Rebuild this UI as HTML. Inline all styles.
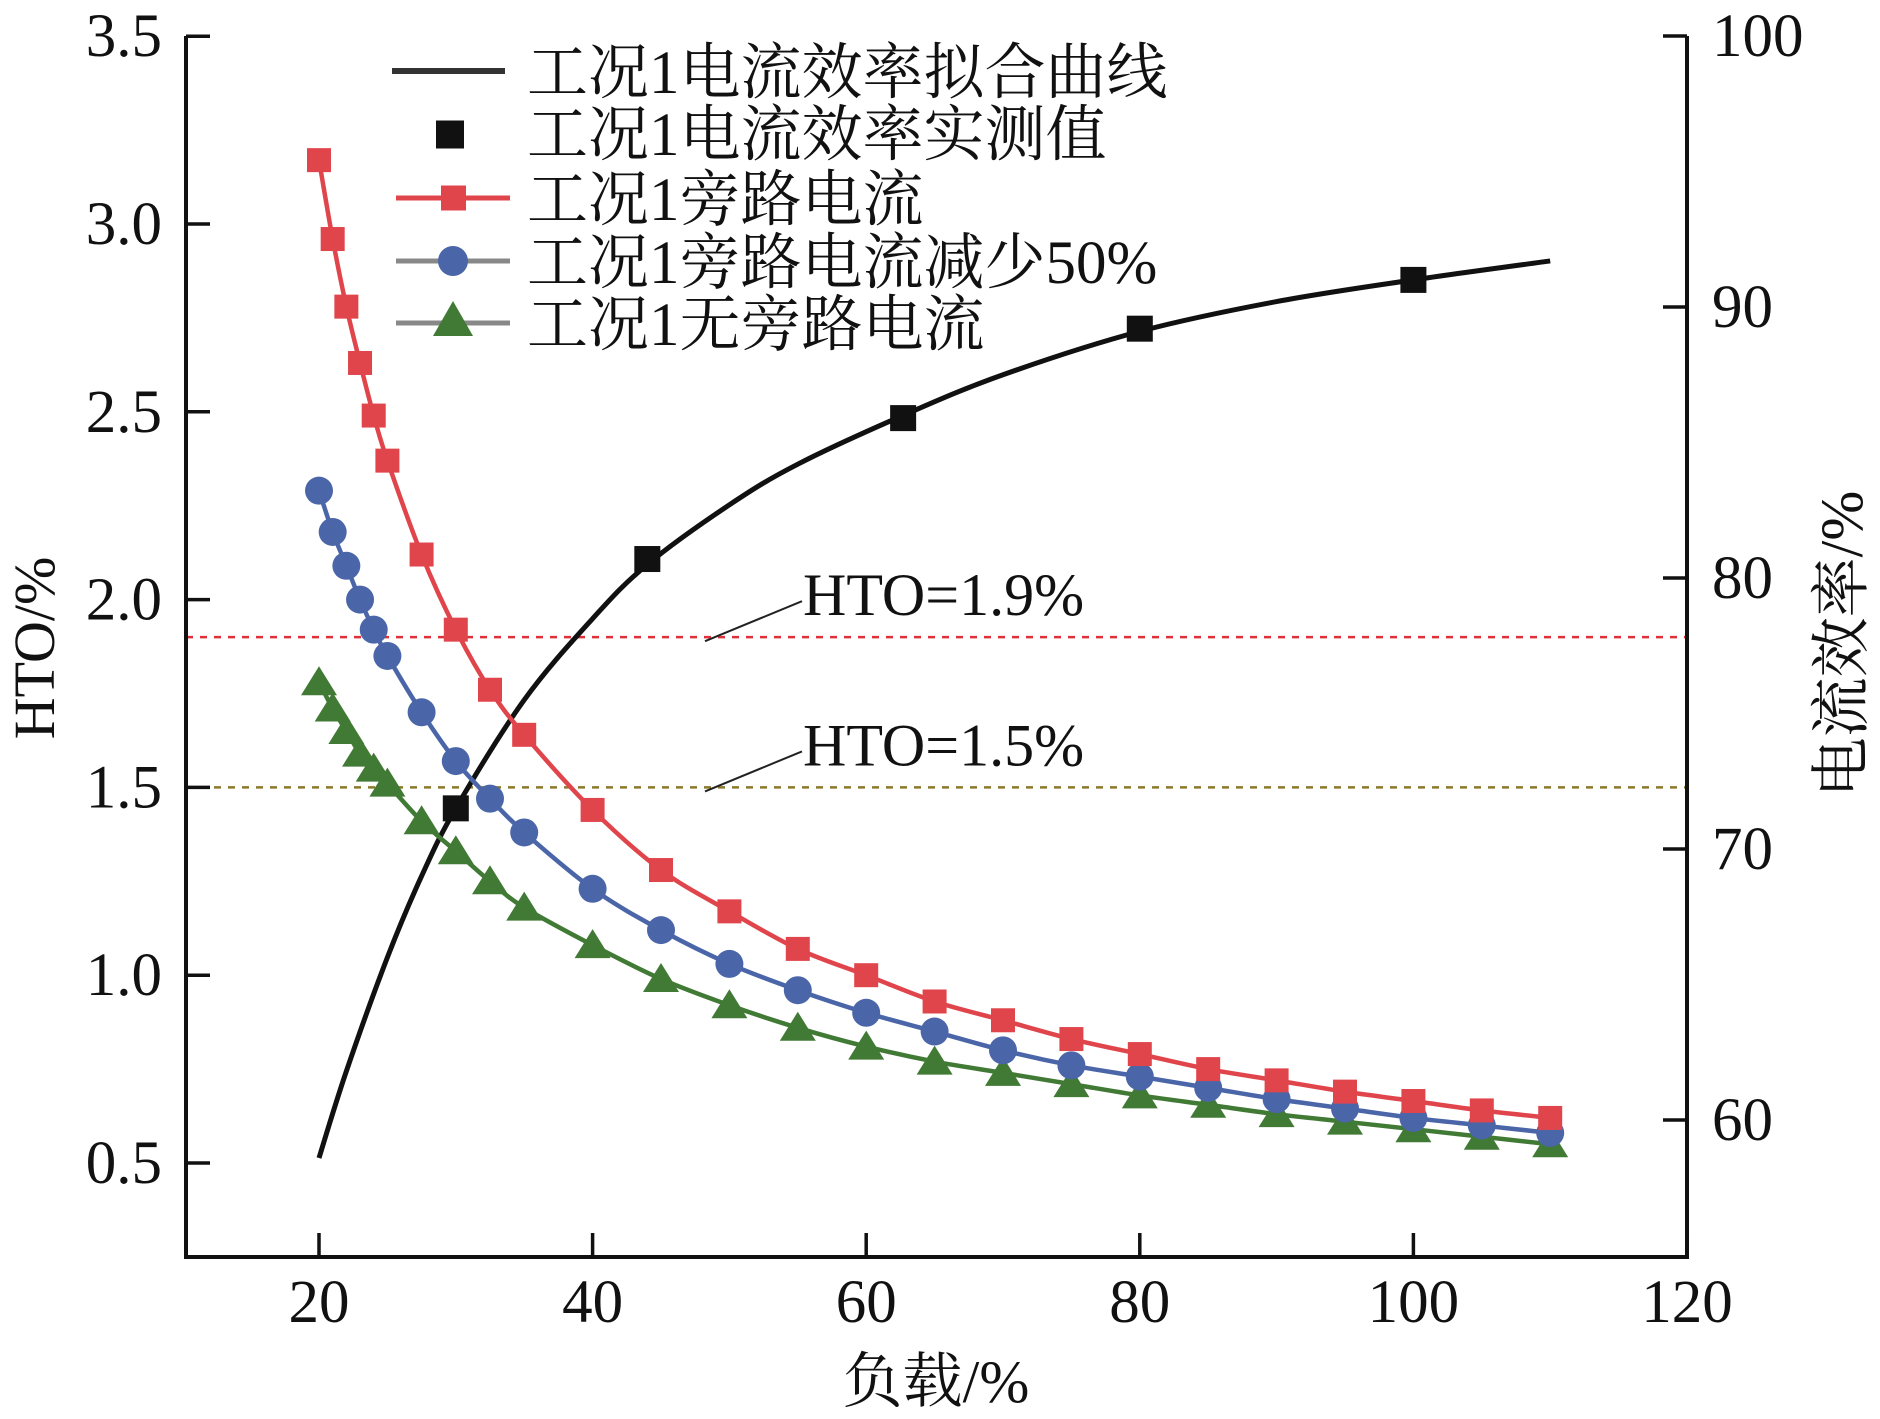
<!DOCTYPE html>
<html><head><meta charset="utf-8">
<style>
body{margin:0;background:#fff;}
svg{display:block;}
text{font-family:"Liberation Serif","Noto Serif CJK SC",serif;fill:#111;}
</style></head>
<body>
<svg id="chart" width="1880" height="1419" xmlns="http://www.w3.org/2000/svg">
<g id="plot"></g>
</svg>
<script>
const loads = [20,21,22,23,24,25,27.5,30,32.5,35,40,45,50,55,60,65,70,75,80,85,90,95,100,105,110];
const htoBypass = [3.17,2.96,2.78,2.63,2.49,2.37,2.12,1.92,1.76,1.64,1.44,1.28,1.17,1.07,1.00,0.93,0.88,0.83,0.79,0.75,0.72,0.69,0.665,0.64,0.62];
const htoHalf = [2.29,2.18,2.09,2.00,1.92,1.85,1.70,1.57,1.47,1.38,1.23,1.12,1.03,0.96,0.90,0.85,0.80,0.76,0.73,0.70,0.67,0.645,0.62,0.60,0.58];
const htoNone = [1.78,1.71,1.65,1.59,1.55,1.51,1.41,1.33,1.25,1.18,1.08,0.99,0.92,0.86,0.81,0.77,0.74,0.71,0.68,0.655,0.63,0.61,0.59,0.57,0.55];
const fitLoads = [20,22,25,27.5,30,35,40,44,50,55,62.7,70,80,90,100,110];
const fitEff = [58.6,61.8,66.0,69.0,71.5,75.5,78.5,80.5,82.7,84.2,86.0,87.5,89.1,90.2,91.0,91.7];
const measLoads = [30,44,62.7,80,100];
const measEff = [71.5,80.7,85.9,89.2,91.0];
const xTicks = [20,40,60,80,100,120];
const yTicks = [0.5,1.0,1.5,2.0,2.5,3.0,3.5];
const y2Ticks = [60,70,80,90,100];
const thresholds = [1.9,1.5];

const NS="http://www.w3.org/2000/svg";
const g=document.getElementById('plot');
const L=186,R=1687,T=36,B=1257;
const X=v=>319+(v-20)*13.68;
const Y=v=>224+(3.0-v)*375.6;
const Y2=v=>1120-(v-60)*27.1;
function el(tag,attrs,parent){const e=document.createElementNS(NS,tag);for(const k in attrs)e.setAttribute(k,attrs[k]);(parent||g).appendChild(e);return e;}
function txt(s,attrs){const t=el('text',attrs);t.textContent=s;return t;}

const thColors=['#e0303a','#8a7a2a'];
thresholds.forEach((v,i)=>{
  const ln=el('line',{x1:L,x2:R,y1:Y(v),y2:Y(v),stroke:thColors[i],'stroke-width':2.5,'stroke-dasharray':'7,7'});
  
  
  const ly=Y(v);
  const lead=el('line',{x1:705,y1:ly+4,x2:802,y2:ly-36,stroke:'#222','stroke-width':2});
  
  
  const t=txt('HTO='+v.toFixed(1)+'%',{x:803,y:ly-22,'font-size':60});
  
  
});

function smooth(pts){
  let d='M'+pts[0][0]+','+pts[0][1];
  for(let i=0;i<pts.length-1;i++){
    const p0=pts[i-1]||pts[i],p1=pts[i],p2=pts[i+1],p3=pts[i+2]||p2;
    const c1=[p1[0]+(p2[0]-p0[0])/6,p1[1]+(p2[1]-p0[1])/6];
    const c2=[p2[0]-(p3[0]-p1[0])/6,p2[1]-(p3[1]-p1[1])/6];
    d+=' C'+c1+' '+c2+' '+p2;
  }
  return d;
}

const fit=el('path',{d:smooth(fitLoads.map((x,i)=>[X(x),Y2(fitEff[i])])),fill:'none',stroke:'#111','stroke-width':5});



function series(vals,color,marker,name){
  const p=el('path',{d:smooth(loads.map((x,i)=>[X(x),Y(vals[i])])),fill:'none',stroke:color,'stroke-width':4.5});
  
  
  loads.forEach((x,i)=>{
    const cx=X(x),cy=Y(vals[i]);let m;
    if(marker==='sq') m=el('rect',{x:cx-12,y:cy-12,width:24,height:24,fill:color});
    else if(marker==='ci') m=el('circle',{cx:cx,cy:cy,r:14,fill:color});
    else m=el('polygon',{points:(cx)+','+(cy-16)+' '+(cx-18)+','+(cy+13)+' '+(cx+18)+','+(cy+13),fill:color});
    
    
  });
}
series(htoNone,'#417a35','tri','no-bypass');
series(htoHalf,'#4b66a8','ci','half-bypass');
series(htoBypass,'#e0454c','sq','bypass');

measLoads.forEach((x,i)=>{
  const m=el('rect',{x:X(x)-13,y:Y2(measEff[i])-13,width:26,height:26,fill:'#111'});
  
  
});

const fr=el('path',{d:`M${L},${T} V${B} H${R} V${T}`,fill:'none',stroke:'#111','stroke-width':4});



xTicks.forEach(v=>{
  const tk=el('line',{x1:X(v),x2:X(v),y1:B,y2:B-24,stroke:'#111','stroke-width':3.5});
  
  
  const t=txt(String(v),{x:X(v),y:1322,'font-size':61,'text-anchor':'middle'});
  
  
});
yTicks.forEach(v=>{
  const tk=el('line',{x1:L,x2:L+24,y1:Y(v),y2:Y(v),stroke:'#111','stroke-width':3.5});
  
  
  const t=txt(v.toFixed(1),{x:162,y:Y(v)+20,'font-size':61,'text-anchor':'end'});
  
  
});
y2Ticks.forEach(v=>{
  const tk=el('line',{x1:R,x2:R-24,y1:Y2(v),y2:Y2(v),stroke:'#111','stroke-width':3.5});
  
  
  const t=txt(String(v),{x:1712,y:Y2(v)+20,'font-size':61});
  
  
});

let t=txt('负载/%',{x:936,y:1402,'font-size':60,'text-anchor':'middle'});


t=txt('HTO/%',{x:0,y:0,'font-size':58,'text-anchor':'middle',transform:'translate(54,648) rotate(-90)'});


t=txt('电流效率/%',{x:0,y:0,'font-size':60,'text-anchor':'middle',transform:'translate(1862,644) rotate(-90)'});



const leg=[['工况1电流效率拟合曲线','#333',null,'#111'],['工况1电流效率实测值',null,'sq','#111'],['工况1旁路电流','#e0454c','sq','#e0454c'],['工况1旁路电流减少50%','#888','ci','#4b66a8'],['工况1无旁路电流','#888','tri','#417a35']];
const legY=[71,133,198,261,323];
leg.forEach((e,i)=>{
  const y=legY[i];
  if(e[1]){const l=el('line',{x1:i===0?392:396,x2:i===0?505:510,y1:y,y2:y,stroke:e[1],'stroke-width':i===0?6:5});
    
    }
  let m=null;
  if(e[2]==='sq') m=el('rect',{x:i===1?436:441,y:y-12.5,width:i===1?28:25,height:i===1?28:25,fill:e[3]});
  else if(e[2]==='ci') m=el('circle',{cx:453,cy:y,r:15,fill:e[3]});
  else if(e[2]==='tri') m=el('polygon',{points:`453,${y-22} 433,${y+13} 473,${y+13}`,fill:e[3]});
  if(m){
    }
  const tx=txt(e[0],{x:527,y:y+22,'font-size':61});
  
  
});
</script>
</body></html>
